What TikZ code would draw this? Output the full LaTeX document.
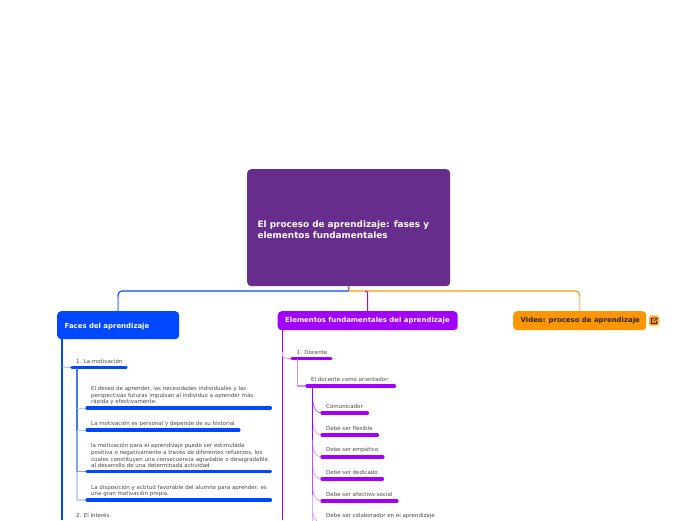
\documentclass[tikz,border=0pt]{standalone}
\usepackage{fontspec}
\setmainfont{DejaVu Sans}
\definecolor{rootc}{HTML}{662D8C}
\definecolor{bluec}{HTML}{0048FF}
\definecolor{purc}{HTML}{A100FF}
\definecolor{orc}{HTML}{FF9500}
\definecolor{txtc}{HTML}{484848}
\tikzset{x=1pt,y=-1pt,
 rootbox/.style={fill=rootc,rounded corners=4pt,inner sep=0pt},
 mainbox/.style={rounded corners=4pt,inner sep=0pt},
 lbl/.style={anchor=south west,inner sep=0pt,align=left,text=txtc,font=\fontsize{5.5}{6.6}\selectfont},
 btxt/.style={anchor=west,inner sep=0pt,align=left,font=\bfseries\fontsize{6.93}{8.4}\selectfont},
 bar/.style={line width=3.1pt,line cap=round},
 thin/.style={line width=.9pt}}
\begin{document}
\begin{tikzpicture}
\useasboundingbox (0,0) rectangle (696,520);
% root
\node[rootbox,minimum width=203pt,minimum height=117pt,anchor=north west] (root) at (247,169) {};
\node[btxt,text=white,font=\bfseries\fontsize{8.85}{11}\selectfont] (roott) at (257.5,229.5) {El proceso de aprendizaje: fases y\\elementos fundamentales};
% main nodes
\node[mainbox,fill=bluec,minimum width=122pt,minimum height=28pt,anchor=north west] (faces) at (57,311) {};
\node[btxt,text=white] (facest) at (64.5,326.5) {Faces del aprendizaje};
\node[mainbox,fill=purc,minimum width=180pt,minimum height=19pt,anchor=north west] (elem) at (277.5,311) {};
\node[btxt,text=white] (elemt) at (285,320.5) {Elementos fundamentales del aprendizaje};
\node[mainbox,fill=orc,minimum width=133pt,minimum height=19pt,anchor=north west] (video) at (513,311) {};
\node[btxt,text=black!85] (videot) at (520.5,320.5) {Video: proceso de aprendizaje};
% link icon
\node[fill=orc,draw=orc!35,line width=.8pt,rounded corners=1.5pt,minimum size=10pt,inner sep=0pt,anchor=center] (icon) at (654,320.7) {};
\draw[line width=.5pt,black!85] (653.5,318.5) -- (651.5,318.5) -- (651.5,323.5) -- (656.5,323.5) -- (656.5,321);
\draw[line width=.5pt,black!85] (654,321) -- (657,318) (655,318) -- (657,318) -- (657,320);
% root connectors
\coordinate (rb) at (348.5,291);
\coordinate (pm) at (365,291);
\draw[line width=1.1pt,bluec,rounded corners=4pt] (rb) -- (118,291) -- (118,297);
\draw[line width=1.1pt,orc,rounded corners=4pt] (rb) -- (579.5,291) -- (579.5,297);
\draw[line width=1.5pt,bluec!50] (118,296) -- (faces.north);
\draw[line width=1.5pt,orc!50] (579.5,296) -- (video.north);
\draw[line width=1pt,purc,rounded corners=2pt] (pm) -- (367.5,291) -- (elem.north);
\draw[line width=1.6pt,rootc!55!orc!90!red] (root.south) -- (rb);
% blue branch
\draw[line width=1.7pt,bluec] (62,339) -- (62,520);
\coordinate (b1) at (72,367.5);
\draw[thin,bluec!40] (62,367) -- (b1);
\draw[bar,bluec] (b1) -- (126,367.5);
\node[lbl] (m1) at (76,364) {1. La motivación};
\coordinate (b2) at (87,408);
\coordinate (b3) at (87,430);
\coordinate (b4) at (87,471.5);
\coordinate (b5) at (87,500);
\draw[line width=1.2pt,bluec!25,line join=round] (77,470) -- (77,500) -- (b5);
\draw[line width=1.2pt,bluec!50] (77,430) -- (77,471.5) -- (b4);
\draw[line width=1.2pt,bluec!75] (77,367.5) -- (77,431);
\draw[line width=1pt,bluec!30] (77,408) -- (b2) (77,430) -- (b3);
\draw[bar,bluec] (b2) -- (270.5,408);
\node[lbl] (m2) at (91,405) {El deseo de aprender, las necesidades individuales y las\\perspectivas futuras impulsan al individuo a aprender más\\rápida y efectivamente.};
\draw[bar,bluec] (b3) -- (239,430);
\node[lbl] (m3) at (91,427) {La motivación es personal y depende de su historial};
\draw[bar,bluec] (b4) -- (270.5,471.5);
\node[lbl] (m4) at (91,468) {la motivación para el aprendizaje puede ser estimulada\\positiva o negativamente a través de diferentes refuerzos, los\\cuales constituyen una consecuencia agradable o desagradable\\al desarrollo de una determinada actividad};
\draw[bar,bluec] (b5) -- (270.5,500);
\node[lbl] (m5) at (91,497) {La disposición y actitud favorable del alumno para aprender, es\\una gran motivación propia.};
\node[lbl] (m6) at (76,518) {2. El interés};
% purple branch
\draw[line width=1.7pt,purc] (282.5,330) -- (282.5,520);
\coordinate (d1b) at (292,358.5);
\draw[thin,purc!40,rounded corners=2.5pt] (282.5,352) -- (282.5,358) -- (d1b);
\draw[bar,purc] (d1b) -- (331,358.5);
\node[lbl] (d1) at (296.5,354.8) {1. Docente};
\coordinate (d2b) at (307,386);
\draw[line width=1.1pt,purc!45] (297.5,358.5) -- (297.5,386) -- (d2b);
\draw[bar,purc] (d2b) -- (394.5,386);
\node[lbl] (d2) at (311,382) {El docente como orientador:};
\foreach \y in {545,523,501,479,457,435}{
 \draw[thin,purc!35] (312.5,386) -- (312.5,\y-14) .. controls (313.5,\y-5) and (316,\y) .. (322,\y);
}
\draw[thin,purc!60] (312.5,386) -- (312.5,399) .. controls (313.5,408) and (316,413) .. (322,413);
\draw[line width=1.1pt,purc] (312.5,386) -- (312.5,440);
\draw[line width=1.1pt,purc!70] (312.5,440) -- (312.5,495);
\foreach \y/\e/\t in {413/367.5/Comunicador,435/377.5/Debe ser flexible,457/383/Debe ser empático,479/382.5/Debe ser dedicado,501/397/Debe ser afectivo-social}{
 \draw[bar,purc] (322,\y) -- (\e,\y);
 \node[lbl] at (326,\y-4) {\t};
}
\node[lbl] (d8) at (326,519) {Debe ser colaborador en el aprendizaje};
\end{tikzpicture}
\end{document}
